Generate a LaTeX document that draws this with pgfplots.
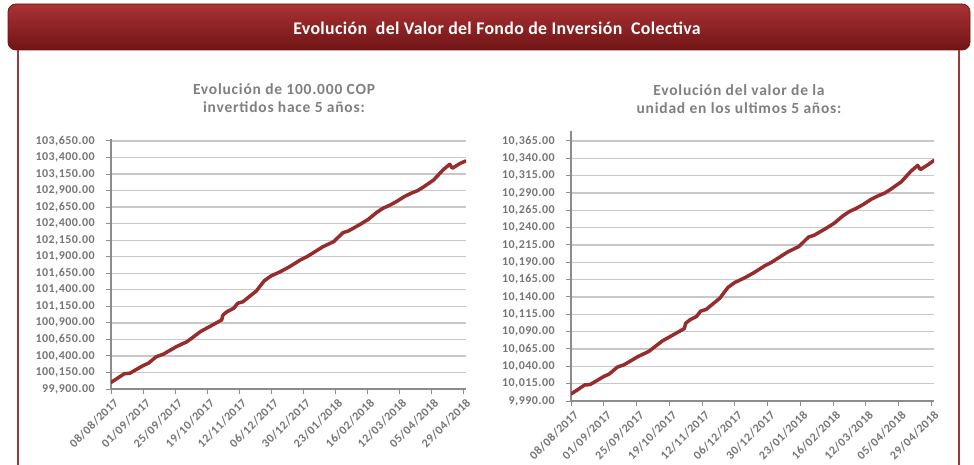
\documentclass[border=0pt]{standalone}
\usepackage{pgfplots}
\pgfplotsset{compat=1.18}
\usepackage{pgfplotstable}
\usepackage{fontspec}
\setmainfont{Carlito}
\newfontfamily\ticksfont[LetterSpace=4]{Carlito}
\newfontfamily\titlefont[LetterSpace=5]{Carlito}
\newfontfamily\bannerfont[LetterSpace=2]{Carlito}
\definecolor{linered}{RGB}{150,45,45}
\definecolor{framered}{RGB}{160,55,55}
\definecolor{bannerlight}{RGB}{170,50,52}
\definecolor{bannermid}{RGB}{140,28,30}
\definecolor{bannerdark}{RGB}{112,20,22}
\definecolor{axisgray}{RGB}{140,140,140}
\definecolor{gridgray}{RGB}{200,200,200}
\definecolor{labelgray}{RGB}{118,118,118}
\definecolor{titlegray}{RGB}{128,128,128}

\pgfplotstableread{
day value
0 100000
4 100051
10 100131
14 100137
24 100253
28 100289
34 100389
39 100424
49 100540
57 100615
67 100767
73 100833
83 100944
84 101019
87 101069
92 101120
95 101196
99 101220
109 101382
115 101538
120 101609
127 101674
134 101750
142 101851
147 101901
159 102052
167 102128
174 102264
178 102289
187 102391
193 102466
199 102566
204 102633
209 102678
214 102733
220 102809
225 102859
230 102900
234 102950
242 103061
249 103212
254 103298
256 103238
262 103313
266 103348
}\leftdata

\pgfplotstableread{
day value
0 10000.2
4 10005.1
10 10013.1
14 10013.7
24 10025.3
28 10028.9
34 10038.9
39 10042.4
49 10054.0
57 10061.5
67 10076.7
73 10083.3
83 10094.4
84 10101.9
87 10106.9
92 10112.0
95 10119.6
99 10122.0
109 10138.2
115 10153.8
120 10160.9
127 10167.4
134 10175.0
142 10185.1
147 10190.1
159 10205.2
167 10212.8
174 10226.4
178 10228.9
187 10239.1
193 10246.6
199 10256.6
204 10263.3
209 10267.8
214 10273.3
220 10280.9
225 10285.9
230 10290.0
234 10295.0
242 10306.1
249 10321.2
254 10329.8
256 10323.8
262 10331.3
266 10337.0
}\rightdata

\pgfplotsset{
  fundstyle/.style={
    scale only axis,
    axis x line*=bottom,
    axis y line*=left,
    axis line style={draw=axisgray, line width=1.3pt, -},
    ymajorgrids,
    grid style={draw=gridgray, line width=1.3pt},
    tick style={draw=axisgray, line width=1pt},
    major tick length=5pt,
    tick align=outside,
    scaled y ticks=false,
    xmin=0,
    xtick={0,24,48,72,96,120,144,168,192,216,240,264},
    xticklabels={08/08/2017,01/09/2017,25/09/2017,19/10/2017,12/11/2017,06/12/2017,30/12/2017,23/01/2018,16/02/2018,12/03/2018,05/04/2018,29/04/2018},
    xticklabel style={rotate=45, anchor=north east, inner sep=1pt, yshift=-3pt, font=\ticksfont\bfseries\fontsize{12}{14}\selectfont, text=labelgray},
    yticklabel style={font=\ticksfont\bfseries\fontsize{12}{14}\selectfont, text=labelgray, inner sep=2pt, xshift=-9pt},
    yticklabel style={/pgf/number format/fixed, /pgf/number format/fixed zerofill,
      /pgf/number format/precision=2, /pgf/number format/1000 sep={,},
      /pgf/number format/assume math mode=true},
  }
}

\begin{document}
\begin{tikzpicture}
\path[use as bounding box, fill=white] (0pt,0pt) rectangle (974pt,-465pt);

% banner
\shade[rounded corners=8pt, top color=bannerlight, middle color=bannermid, bottom color=bannerdark]
  (8pt,-4pt) rectangle (970pt,-50pt);
\draw[rounded corners=8pt, draw=bannerdark, line width=0.8pt] (8pt,-4pt) rectangle (970pt,-50pt);
\node[text=white, font=\bannerfont\bfseries\fontsize{17.8}{20}\selectfont] at (497pt,-28pt) {Evolución\ \ del Valor del Fondo de Inversión\ \ Colectiva};

% frame side lines
\draw[framered, line width=2.5pt] (18pt,-50pt) -- (18pt,-465pt);
\draw[framered, line width=2.5pt] (959pt,-50pt) -- (959pt,-465pt);

% left chart
\begin{axis}[fundstyle,
  at={(111pt,-389pt)}, anchor=south west,
  width=355pt, height=250pt,
  xmax=266.25,
  ymin=99900, ymax=103680.2,
  ytick={99900,100150,100400,100650,100900,101150,101400,101650,101900,102150,102400,102650,102900,103150,103400,103650},
]
\addplot[linered, line width=3.5pt, line join=round, line cap=round] table[x=day, y=value] {\leftdata};
\end{axis}

% right chart
\begin{axis}[fundstyle,
  at={(571pt,-401pt)}, anchor=south west,
  width=363pt, height=270pt,
  xmax=266,
  ymin=9990, ymax=10379.4,
  ytick={9990,10015,10040,10065,10090,10115,10140,10165,10190,10215,10240,10265,10290,10315,10340,10365},
]
\addplot[linered, line width=3.5pt, line join=round, line cap=round] table[x=day, y=value] {\rightdata};
\end{axis}

% chart titles
\node[text=titlegray, font=\titlefont\bfseries\fontsize{15.5}{18}\selectfont, align=center, anchor=base] at (284pt,-113pt)
  {Evolución de 100.000 COP\\invertidos hace 5 años:};
\node[text=titlegray, font=\titlefont\bfseries\fontsize{15.5}{18}\selectfont, align=center, anchor=base] at (739pt,-114pt)
  {Evolución del valor de la\\unidad en los ultimos 5 años:};
\end{tikzpicture}
\end{document}
